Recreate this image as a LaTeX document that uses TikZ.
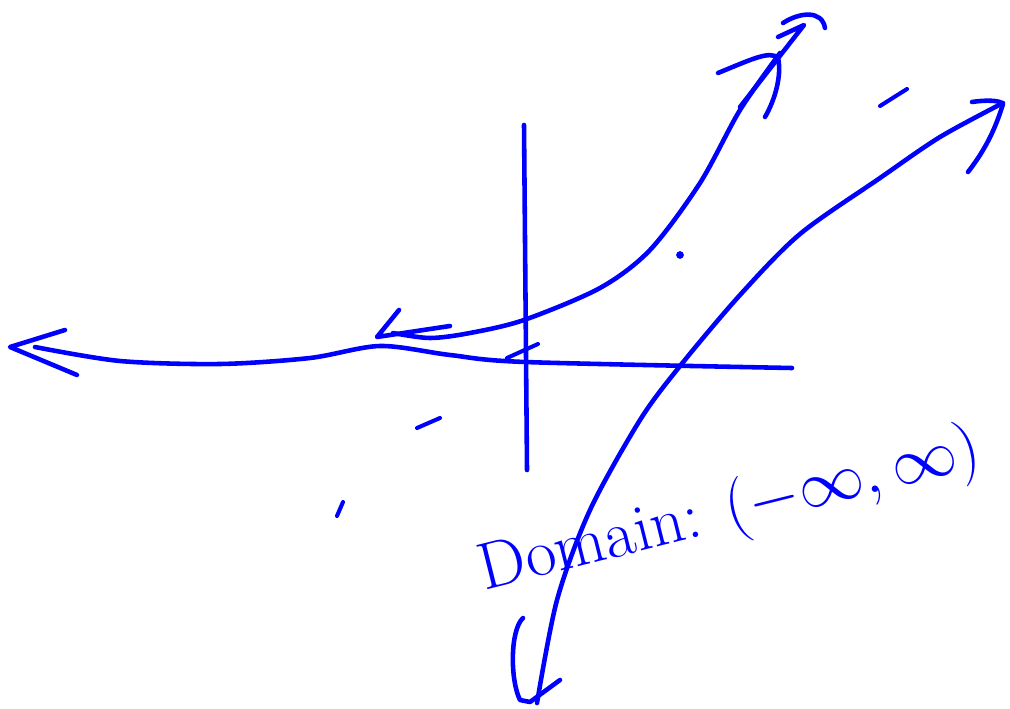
\documentclass[tikz,border=0pt]{standalone}
\usetikzlibrary{positioning}
\definecolor{inkcolor}{RGB}{0,0,255}

\begin{document}
\begin{tikzpicture}[x=0.02cm, y=-0.02cm,
    ink/.style={draw=inkcolor, line width=2.6pt, line cap=round, line join=round},
    tick/.style={ink, line width=2.3pt},
    note/.style={text=inkcolor, font=\Huge, scale=1.52, rotate=14}]
    \useasboundingbox (0,0) rectangle (1010,709);

    % Axes
    \draw[ink] (524,125) -- (527,470);
    \draw[ink] plot[smooth, tension=0.5] coordinates {(35,347) (120,361) (220,364) (310,358) (380,346) (450,355) (525,362) (792,368)};
    \draw[ink] (65,330) -- (10,347) -- (77,375);
    \draw[tick] (507,358) -- (538,344);

    % Growth curve
    \draw[ink] plot[smooth] coordinates {(393,333) (430,338) (470,333) (524,320) (600,288) (650,250) (700,183) (740,110) (780,53)};
    \draw[ink] (399,310) -- (377,337) -- (450,326);
    \draw[ink] (718,73) .. controls (750,60) and (770,50) .. (778,58) .. controls (782,75) and (775,100) .. (765,117);
    \draw[ink] (740,107) -- (804,25) -- (778,37);
    \draw[ink] (783,23) .. controls (800,12) and (822,10) .. (825,28);

    % Increasing curve
    \draw[ink] plot[smooth] coordinates {(537,703) (557,600) (590,510) (640,420) (680,366) (740,295) (800,234) (880,178) (940,137) (1003,103)};
    \draw[ink] (972,102) .. controls (985,100) and (1000,100) .. (1003,104) .. controls (995,130) and (985,150) .. (968,172);
    \draw[ink] (523,618) .. controls (510,630) and (510,680) .. (520,700) -- (530,702) -- (560,680);

    % Stray marks
    \draw[tick] (880,106) -- (907,89);
    \draw[tick] (417,428) -- (440,418);
    \draw[tick] (337,516) -- (343,502);
    \fill[inkcolor] (680,255) circle (2.2pt);

    % Label
    \node[note] (domain) at (730,512) {Domain: $(-\infty,\infty)$};
\end{tikzpicture}
\end{document}
